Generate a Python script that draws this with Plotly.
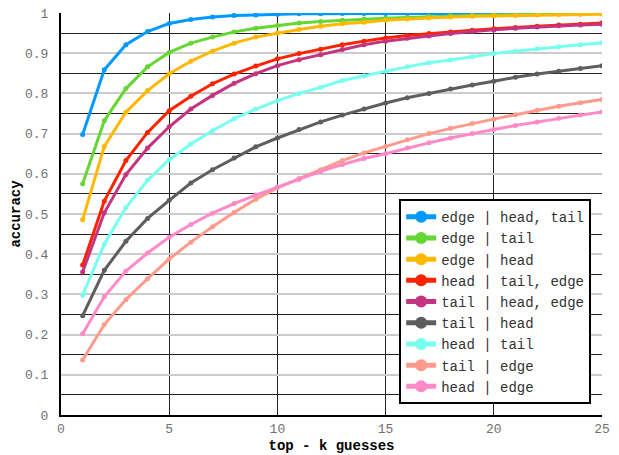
import plotly.graph_objects as go

k = list(range(1, 26))

names = [
    "edge | head, tail",
    "edge | tail",
    "edge | head",
    "head | tail, edge",
    "tail | head, edge",
    "tail | head",
    "head | tail",
    "tail | edge",
    "head | edge",
]
colors = ["#0099ff", "#66d633", "#ffb800", "#ff2200", "#c4347f",
          "#5e5e5e", "#77fff0", "#ff9a8c", "#ff8ac8"]

edge_head_tail = [0.698, 0.859, 0.921, 0.954, 0.974, 0.984, 0.990, 0.994, 0.995, 0.997,
                  0.998, 0.998, 0.999, 0.999, 0.999, 0.999, 0.999, 0.999, 0.999, 0.999,
                  0.999, 0.999, 0.999]
edge_tail = [0.575, 0.732, 0.812, 0.866, 0.902, 0.925, 0.940, 0.953, 0.962, 0.969,
             0.975, 0.979, 0.982, 0.985, 0.987, 0.989, 0.991, 0.993, 0.994, 0.995,
             0.996, 0.997, 0.998, 0.998, 0.999]
edge_head = [0.486, 0.668, 0.753, 0.807, 0.849, 0.880, 0.905, 0.925, 0.940, 0.950,
             0.959, 0.967, 0.973, 0.977, 0.982, 0.985, 0.988, 0.990, 0.992, 0.993,
             0.994, 0.995, 0.996, 0.997, 0.997]
head_tail_edge = [0.373, 0.532, 0.633, 0.703, 0.757, 0.793, 0.824, 0.848, 0.868, 0.886,
                  0.899, 0.910, 0.921, 0.930, 0.938, 0.944, 0.949, 0.953, 0.957, 0.961,
                  0.964, 0.967, 0.970, 0.972, 0.975]
tail_head_edge = [0.356, 0.503, 0.598, 0.664, 0.717, 0.761, 0.795, 0.825, 0.849, 0.869,
                  0.884, 0.896, 0.909, 0.921, 0.930, 0.937, 0.943, 0.949, 0.954, 0.958,
                  0.962, 0.965, 0.968, 0.970, 0.972]
tail_head = [0.247, 0.360, 0.432, 0.489, 0.534, 0.577, 0.610, 0.639, 0.667, 0.689,
             0.710, 0.729, 0.746, 0.761, 0.776, 0.789, 0.800, 0.811, 0.821, 0.830,
             0.840, 0.848, 0.855, 0.862, 0.869]
head_tail = [0.298, 0.425, 0.516, 0.584, 0.635, 0.674, 0.707, 0.737, 0.761, 0.782,
             0.800, 0.815, 0.832, 0.844, 0.855, 0.866, 0.876, 0.883, 0.891, 0.899,
             0.905, 0.911, 0.916, 0.921, 0.926]
tail_edge = [0.137, 0.225, 0.287, 0.339, 0.388, 0.430, 0.468, 0.504, 0.537, 0.565,
             0.588, 0.610, 0.633, 0.652, 0.668, 0.685, 0.700, 0.713, 0.725, 0.736,
             0.747, 0.758, 0.768, 0.777, 0.785]
head_edge = [0.202, 0.294, 0.358, 0.403, 0.442, 0.474, 0.502, 0.526, 0.547, 0.567,
             0.586, 0.606, 0.623, 0.638, 0.650, 0.664, 0.677, 0.689, 0.700, 0.710,
             0.720, 0.729, 0.738, 0.746, 0.754]

series = [edge_head_tail, edge_tail, edge_head, head_tail_edge, tail_head_edge,
          tail_head, head_tail, tail_edge, head_edge]

x_ticks = [0, 5, 10, 15, 20, 25]
y_ticks = [0, 0.1, 0.2, 0.3, 0.4, 0.5, 0.6, 0.7, 0.8, 0.9, 1]
y_labels = ["0", "0.1", "0.2", "0.3", "0.4", "0.5", "0.6", "0.7", "0.8", "0.9", "1"]

FONT = "Liberation Mono, Courier New, monospace"

fig = go.Figure()
for name, col, vals in zip(names, colors, series):
    fig.add_trace(go.Scatter(
        x=k[:len(vals)], y=vals, name=name, mode="lines+markers",
        line=dict(color=col, width=3),
        marker=dict(color=col, size=5),
    ))

# page body has an 8px margin, so the figure is sized to fit the 619x455 window
fig.update_layout(
    width=611, height=447,
    margin=dict(l=53, r=17, t=5, b=40),
    paper_bgcolor="white", plot_bgcolor="white",
    font=dict(family=FONT, size=13, color="#707070"),
    showlegend=True,
    legend=dict(
        x=0.98, y=0.027, xanchor="right", yanchor="bottom",
        bgcolor="white", bordercolor="black", borderwidth=2,
        font=dict(family=FONT, size=14, color="#333333"),
        itemsizing="constant", tracegroupgap=0,
    ),
    xaxis=dict(
        range=[0, 25], tickvals=x_ticks, ticktext=[str(v) for v in x_ticks],
        showgrid=True, gridcolor="#222222", gridwidth=1,
        showline=True, linecolor="black", linewidth=2, mirror=False,
        zeroline=False, ticks="", automargin=False, ticklabeloverflow="allow",
        tickfont=dict(family=FONT, size=13, color="#707070"),
        title=dict(text="<b>top - k guesses</b>", standoff=5,
                   font=dict(family=FONT, size=14, color="black")),
    ),
    yaxis=dict(
        range=[0, 1], tickvals=y_ticks, ticktext=y_labels,
        showgrid=True, gridcolor="#cccccc", gridwidth=2,
        minor=dict(dtick=0.05, tick0=0.05, showgrid=True, gridcolor="#222222", gridwidth=1),
        showline=True, linecolor="black", linewidth=2,
        zeroline=False, ticks="", ticklabelstandoff=8, automargin=False,
        ticklabeloverflow="allow",
        tickfont=dict(family=FONT, size=13, color="#707070"),
        title=dict(text="<b>accuracy</b>", standoff=4,
                   font=dict(family=FONT, size=14, color="black")),
    ),
)

fig.write_html("out.html")
